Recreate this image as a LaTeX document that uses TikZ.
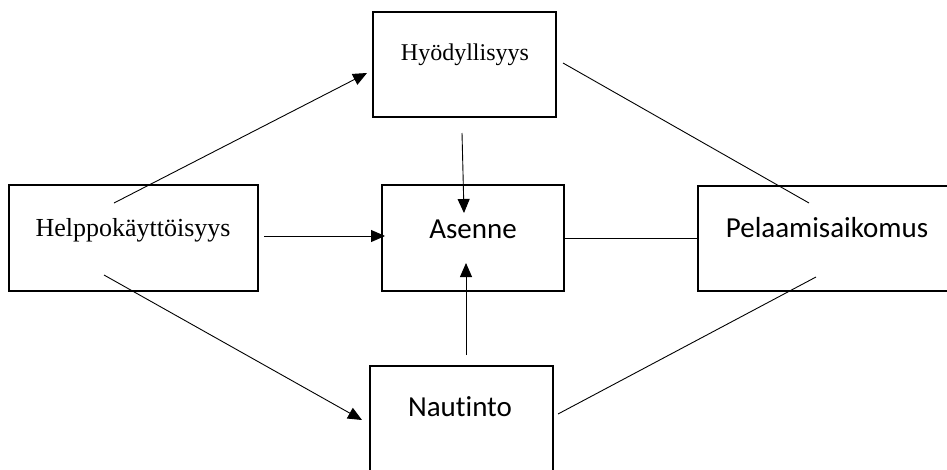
\documentclass[tikz,border=0pt]{standalone}
\usepackage{fontspec}
\setmainfont{Liberation Serif}
\newfontfamily\calib[Ligatures=NoCommon]{Carlito}
\usetikzlibrary{arrows.meta}
\begin{document}
\begin{tikzpicture}[x=1pt,y=-1pt,
  box/.style={draw,line width=1.7pt,rectangle,inner sep=0pt},
  serif/.style={font=\fontsize{24}{28}\selectfont,inner sep=0pt,anchor=center},
  sans/.style={font=\calib\fontsize{29}{34}\selectfont,inner sep=0pt,anchor=center},
  arr/.style={line width=0.9pt,-{Triangle[length=14pt,width=12pt]}},
  ln/.style={line width=0.9pt}]
\useasboundingbox (0,0) rectangle (947,469);
% boxes
\node[box,minimum width=183pt,minimum height=105pt] (hy) at (464.5,64.5) {};
\node[box,minimum width=182pt,minimum height=106pt] (as) at (473,238) {};
\node[box,minimum width=249pt,minimum height=106pt] (he) at (133.5,238) {};
\node[box,minimum width=250pt,minimum height=105pt] (pe) at (823,238.5) {};
\node[box,minimum width=183pt,minimum height=106pt] (na) at (461.5,419) {};
% texts
\node[serif] (hyt) at (465,55) {Hyödyllisyys};
\node[sans] (ast) at (473,229) {Asenne};
\node[serif,font=\fontsize{26}{30}\selectfont] (het) at (133,230) {Helppokäyttöisyys};
\node[sans] (pet) at (827,228) {Pelaamisaikomus};
\node[sans] (nat) at (460,407) {Nautinto};
% connector endpoints
\coordinate (c1s) at (114,203);
\coordinate (c1e) at (367,73);
\coordinate (c2s) at (462,133);
\coordinate (c2e) at (464,213);
\coordinate (c3s) at (264,236);
\coordinate (c3e) at (385,236);
\coordinate (c5s) at (563,63);
\coordinate (c5e) at (809,203);
\coordinate (c6s) at (466,355);
\coordinate (c6e) at (466,263);
\coordinate (c7s) at (104,275);
\coordinate (c7e) at (362,420);
\coordinate (c8s) at (558,414);
\coordinate (c8e) at (816,277);
% connectors
\draw[arr] (c1s) -- (c1e);
\draw[arr] (c2s) -- (c2e);
\draw[arr] (c3s) -- (c3e);
\draw[ln] (as.east) -- (as.east -| pe.west);
\draw[ln] (c5s) -- (c5e);
\draw[arr] (c6s) -- (c6e);
\draw[arr] (c7s) -- (c7e);
\draw[ln] (c8s) -- (c8e);
\end{tikzpicture}
\end{document}
